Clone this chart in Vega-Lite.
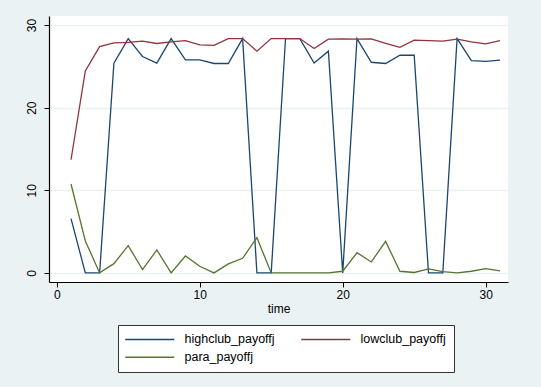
{
  "$schema": "https://vega.github.io/schema/vega-lite/v6.json",
  "width": 459,
  "height": 266,
  "autosize": {"type": "none"},
  "padding": {"left": 49, "top": 16, "right": 33, "bottom": 105},
  "background": "#EAF2F3",
  "config": {
    "font": "Liberation Sans",
    "view": {"fill": "white", "stroke": null}
  },
  "data": {
    "values": [
      {"time": 1, "highclub_payoffj": 6.57, "lowclub_payoffj": 13.7, "para_payoffj": 10.76},
      {"time": 2, "highclub_payoffj": 0, "lowclub_payoffj": 24.46, "para_payoffj": 3.87},
      {"time": 3, "highclub_payoffj": 0, "lowclub_payoffj": 27.4, "para_payoffj": 0},
      {"time": 4, "highclub_payoffj": 25.4, "lowclub_payoffj": 27.85, "para_payoffj": 1.12},
      {"time": 5, "highclub_payoffj": 28.37, "lowclub_payoffj": 27.9, "para_payoffj": 3.3},
      {"time": 6, "highclub_payoffj": 26.2, "lowclub_payoffj": 28.05, "para_payoffj": 0.4},
      {"time": 7, "highclub_payoffj": 25.4, "lowclub_payoffj": 27.77, "para_payoffj": 2.78},
      {"time": 8, "highclub_payoffj": 28.37, "lowclub_payoffj": 27.97, "para_payoffj": 0},
      {"time": 9, "highclub_payoffj": 25.8, "lowclub_payoffj": 28.13, "para_payoffj": 2.05},
      {"time": 10, "highclub_payoffj": 25.8, "lowclub_payoffj": 27.6, "para_payoffj": 0.8},
      {"time": 11, "highclub_payoffj": 25.35, "lowclub_payoffj": 27.55, "para_payoffj": 0},
      {"time": 12, "highclub_payoffj": 25.35, "lowclub_payoffj": 28.37, "para_payoffj": 1.09},
      {"time": 13, "highclub_payoffj": 28.37, "lowclub_payoffj": 28.37, "para_payoffj": 1.77},
      {"time": 14, "highclub_payoffj": 0, "lowclub_payoffj": 26.84, "para_payoffj": 4.27},
      {"time": 15, "highclub_payoffj": 0, "lowclub_payoffj": 28.37, "para_payoffj": 0},
      {"time": 16, "highclub_payoffj": 28.37, "lowclub_payoffj": 28.37, "para_payoffj": 0},
      {"time": 17, "highclub_payoffj": 28.37, "lowclub_payoffj": 28.37, "para_payoffj": 0},
      {"time": 18, "highclub_payoffj": 25.4, "lowclub_payoffj": 27.16, "para_payoffj": 0},
      {"time": 19, "highclub_payoffj": 26.84, "lowclub_payoffj": 28.3, "para_payoffj": 0},
      {"time": 20, "highclub_payoffj": 0, "lowclub_payoffj": 28.33, "para_payoffj": 0.2},
      {"time": 21, "highclub_payoffj": 28.37, "lowclub_payoffj": 28.3, "para_payoffj": 2.45},
      {"time": 22, "highclub_payoffj": 25.5, "lowclub_payoffj": 28.33, "para_payoffj": 1.33},
      {"time": 23, "highclub_payoffj": 25.35, "lowclub_payoffj": 27.8, "para_payoffj": 3.82},
      {"time": 24, "highclub_payoffj": 26.35, "lowclub_payoffj": 27.3, "para_payoffj": 0.2},
      {"time": 25, "highclub_payoffj": 26.35, "lowclub_payoffj": 28.17, "para_payoffj": 0.05},
      {"time": 26, "highclub_payoffj": 0, "lowclub_payoffj": 28.13, "para_payoffj": 0.48},
      {"time": 27, "highclub_payoffj": 0, "lowclub_payoffj": 28.05, "para_payoffj": 0.16},
      {"time": 28, "highclub_payoffj": 28.37, "lowclub_payoffj": 28.3, "para_payoffj": 0},
      {"time": 29, "highclub_payoffj": 25.7, "lowclub_payoffj": 27.97, "para_payoffj": 0.2},
      {"time": 30, "highclub_payoffj": 25.6, "lowclub_payoffj": 27.73, "para_payoffj": 0.52},
      {"time": 31, "highclub_payoffj": 25.75, "lowclub_payoffj": 28.13, "para_payoffj": 0.24}
    ]
  },
  "transform": [
    {"fold": ["highclub_payoffj", "lowclub_payoffj", "para_payoffj"], "as": ["series", "value"]}
  ],
  "mark": {"type": "line", "strokeWidth": 1.3, "clip": true},
  "encoding": {
    "x": {
      "field": "time",
      "type": "quantitative",
      "scale": {"domain": [-0.54, 31.56], "nice": false, "zero": false},
      "axis": {
        "title": "time",
        "values": [0, 10, 20, 30],
        "grid": false,
        "domainColor": "black",
        "domainWidth": 1.2,
        "tickColor": "black",
        "tickSize": 5,
        "labelColor": "black",
        "labelFontSize": 12,
        "labelPadding": 2,
        "titleFontSize": 12,
        "titleFontWeight": "normal",
        "titleColor": "black",
        "titlePadding": 3
      }
    },
    "y": {
      "field": "value",
      "type": "quantitative",
      "scale": {"domain": [-1.1, 31.1], "nice": false, "zero": false},
      "axis": {
        "title": null,
        "values": [0, 10, 20, 30],
        "grid": true,
        "gridColor": "#EAF2F3",
        "gridWidth": 1.5,
        "domainColor": "black",
        "domainWidth": 1.2,
        "tickColor": "black",
        "tickSize": 5,
        "labelColor": "black",
        "labelFontSize": 12,
        "labelAngle": -90,
        "labelAlign": "center",
        "labelBaseline": "bottom",
        "labelPadding": 6
      }
    },
    "color": {
      "field": "series",
      "type": "nominal",
      "scale": {
        "domain": ["highclub_payoffj", "lowclub_payoffj", "para_payoffj"],
        "range": ["#1a476f", "#90353b", "#55752f"]
      },
      "legend": {
        "title": null,
        "orient": "none",
        "legendX": 69,
        "legendY": 309,
        "direction": "horizontal",
        "columns": 2,
        "columnPadding": 23,
        "rowPadding": 5,
        "symbolType": "M-1.4,0H8.4",
        "symbolSize": 100,
        "symbolStrokeWidth": 1.5,
        "labelFontSize": 12.5,
        "labelColor": "black",
        "labelOffset": 46,
        "labelLimit": 200,
        "padding": 8,
        "fillColor": "white",
        "strokeColor": "#333333",
        "cornerRadius": 0
      }
    }
  }
}
